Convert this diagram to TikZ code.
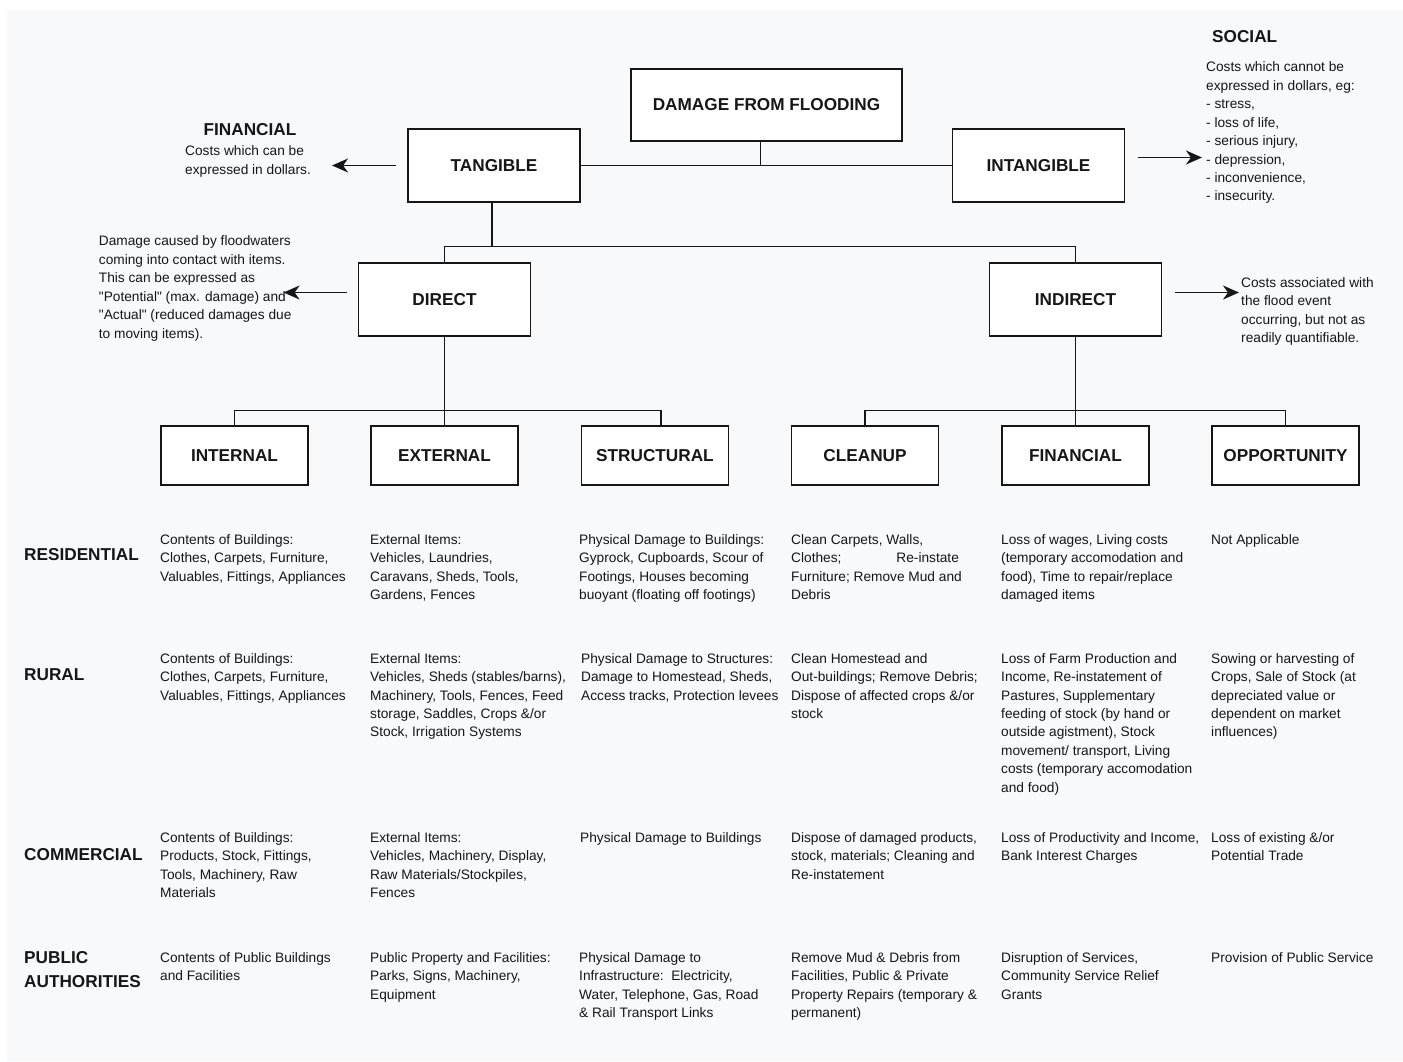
\documentclass[tikz,border=0pt]{standalone}
\usepackage{fontspec}
\setmainfont{Liberation Sans}[Ligatures=TeXOff]
\usetikzlibrary{arrows.meta,calc}
\definecolor{paper}{RGB}{248,249,251}
\definecolor{ink}{RGB}{22,22,22}

\begin{document}
\begin{tikzpicture}
      [x=1pt, y=-1pt, color=ink, text=ink,
       box/.style={draw, fill=white, line width=1.8pt, minimum width=172pt, minimum height=73pt,
                   inner sep=0pt, font=\fontsize{17.2}{20}\selectfont\bfseries},
       small/.style={box, minimum width=147pt, minimum height=59pt},
       head/.style={anchor=north west, yshift=12.3pt, inner sep=0pt, align=left, font=\fontsize{17.2}{24}\selectfont\bfseries},
       txt/.style={anchor=north west, yshift=10pt, inner sep=0pt, align=left, font=\fontsize{13.7}{18.45}\selectfont},
       wire/.style={line width=1.8pt},
       arr/.style={-{Stealth[length=16pt,width=14pt,inset=5pt]}, line width=1.6pt}]
      \useasboundingbox (0,0) rectangle (1403,1061);
      \fill[paper] (7,10) rectangle (1403,1061);

      % the tree
      \node[box, minimum width=271pt, minimum height=72pt](1) at (766.5, 105) {DAMAGE FROM FLOODING};
      \node[box](2) at (494, 165.5) {TANGIBLE};
      \node[box](3) at (1038.5, 165.5) {INTANGIBLE};
      \node[box](4) at (444.5, 299.5) {DIRECT};
      \node[box](5) at (1075.5, 299.5) {INDIRECT};
      \node[small](6) at (234.5, 455.5) {INTERNAL};
      \node[small](7) at (444.5, 455.5) {EXTERNAL};
      \node[small](8) at (655, 455.5) {STRUCTURAL};
      \node[small](9) at (865, 455.5) {CLEANUP};
      \node[small](10) at (1075.5, 455.5) {FINANCIAL};
      \node[small](11) at (1285.5, 455.5) {OPPORTUNITY};

      \draw[wire](2.east) -- (3.west);
      \draw[wire]([xshift=-6pt]1.south) -- ([xshift=-6pt]1.south |- 2.east);
      \draw[wire]([xshift=-2pt]2.south) -- ++(0, 43.5);
      \draw[wire](4.north) -- ++(0, -15.6) -| (5.north);
      \draw[wire](4.south) -- (7.north);
      \draw[wire](6.north) -- ++(0, -14.7) -| ([xshift=6pt]8.north);
      \draw[wire](5.south) -- (10.north);
      \draw[wire](9.north) -- ++(0, -14.7) -| (11.north);

      % notes beside the tree
      \node[head, anchor=north](12) at (250, 136) {FINANCIAL};
      \node[txt](13) at (185, 155.7) {Costs which can be\\expressed in dollars.};
      \node[head](14) at (1212, 42.3) {SOCIAL};
      \node[txt](15) at (1206, 71.7) {Costs which cannot be\\expressed in dollars, eg:\\- stress,\\- loss of life,\\- serious injury,\\- depression,\\- inconvenience,\\- insecurity.};
      \node[txt](16) at (98.7, 245.7) {Damage caused by floodwaters\\coming into contact with items.\\This can be expressed as\\"Potential" (max. damage) and\\"Actual" (reduced damages due\\to moving items).};
      \node[txt](17) at (1241, 287.3) {Costs associated with\\the flood event\\occurring, but not as\\readily quantifiable.};

      \draw[arr]([xshift=-11pt]2.west) -- ($(13.east |- 2.west)+(21, 0)$);
      \draw[arr]([xshift=12.7pt, yshift=8pt]3.east) -- ($(15.west |- 3.east)+(-4, -8)$);
      \draw[arr]([xshift=-11pt, yshift=7pt]4.west) -- ($(16.east |- 4.west)+(-8, -7)$);
      \draw[arr]([xshift=12.7pt, yshift=7pt]5.east) -- ($(17.west |- 5.east)+(-2, -7)$);

      % rows
      \node[head](18) at (24, 561) {RESIDENTIAL};
      \node[head](19) at (24, 681) {RURAL};
      \node[head](20) at (24, 861) {COMMERCIAL};
      \node[head](21) at (24, 964) {PUBLIC\\AUTHORITIES};

      \node[txt](22) at (160, 544) {Contents of Buildings:\\Clothes, Carpets, Furniture,\\Valuables, Fittings, Appliances};
      \node[txt](23) at (370, 544) {External Items:\\Vehicles, Laundries,\\Caravans, Sheds, Tools,\\Gardens, Fences};
      \node[txt](24) at (579, 544) {Physical Damage to Buildings:\\Gyprock, Cupboards, Scour of\\Footings, Houses becoming\\buoyant (floating off footings)};
      \node[txt](25) at (791, 544) {Clean Carpets, Walls,\\Clothes;\hspace{55pt}Re-instate\\Furniture; Remove Mud and\\Debris};
      \node[txt](26) at (1001, 544) {Loss of wages, Living costs\\(temporary accomodation and\\food), Time to repair/replace\\damaged items};
      \node[txt](27) at (1211, 544) {Not Applicable};

      \node[txt](28) at (160, 663) {Contents of Buildings:\\Clothes, Carpets, Furniture,\\Valuables, Fittings, Appliances};
      \node[txt](29) at (370, 663) {External Items:\\Vehicles, Sheds (stables/barns),\\Machinery, Tools, Fences, Feed\\storage, Saddles, Crops \&/or\\Stock, Irrigation Systems};
      \node[txt](30) at (581, 663) {Physical Damage to Structures:\\Damage to Homestead, Sheds,\\Access tracks, Protection levees};
      \node[txt](31) at (791, 663) {Clean Homestead and\\Out-buildings; Remove Debris;\\Dispose of affected crops \&/or\\stock};
      \node[txt](32) at (1001, 663) {Loss of Farm Production and\\Income, Re-instatement of\\Pastures, Supplementary\\feeding of stock (by hand or\\outside agistment), Stock\\movement/ transport, Living\\costs (temporary accomodation\\and food)};
      \node[txt](33) at (1211, 663) {Sowing or harvesting of\\Crops, Sale of Stock (at\\depreciated value or\\dependent on market\\influences)};

      \node[txt](34) at (160, 842) {Contents of Buildings:\\Products, Stock, Fittings,\\Tools, Machinery, Raw\\Materials};
      \node[txt](35) at (370, 842) {External Items:\\Vehicles, Machinery, Display,\\Raw Materials/Stockpiles,\\Fences};
      \node[txt](36) at (580, 842) {Physical Damage to Buildings};
      \node[txt](37) at (791, 842) {Dispose of damaged products,\\stock, materials; Cleaning and\\Re-instatement};
      \node[txt](38) at (1001, 842) {Loss of Productivity and Income,\\Bank Interest Charges};
      \node[txt](39) at (1211, 842) {Loss of existing \&/or\\Potential Trade};

      \node[txt](40) at (160, 962) {Contents of Public Buildings\\and Facilities};
      \node[txt](41) at (370, 962) {Public Property and Facilities:\\Parks, Signs, Machinery,\\Equipment};
      \node[txt](42) at (579, 962) {Physical Damage to\\Infrastructure:\ \ Electricity,\\Water, Telephone, Gas, Road\\\& Rail Transport Links};
      \node[txt](43) at (791, 962) {Remove Mud \& Debris from\\Facilities, Public \& Private\\Property Repairs (temporary \&\\permanent)};
      \node[txt](44) at (1001, 962) {Disruption of Services,\\Community Service Relief\\Grants};
      \node[txt](45) at (1211, 962) {Provision of Public Service};
  \end{tikzpicture}
\end{document}
